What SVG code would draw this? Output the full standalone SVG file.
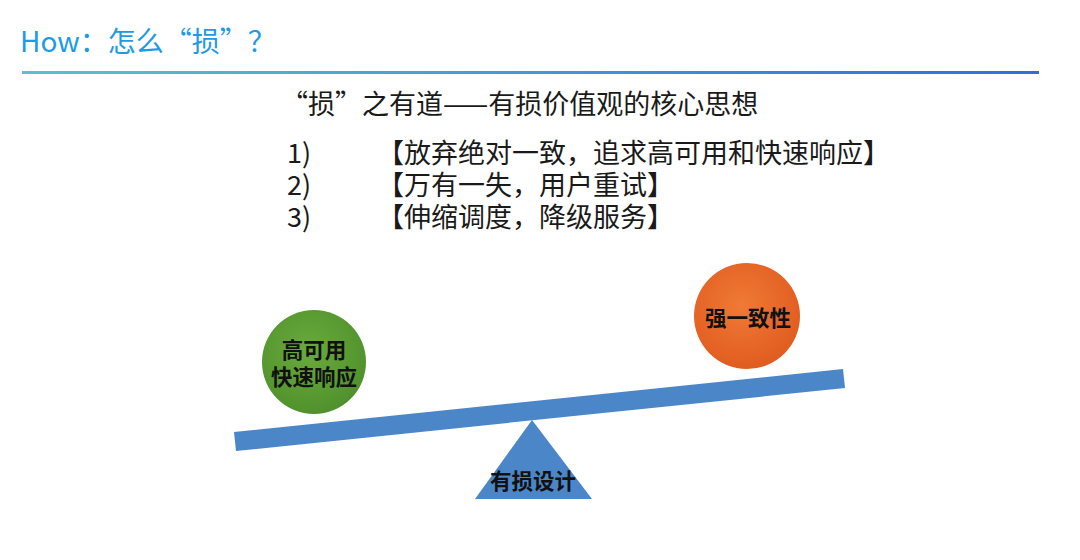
<svg xmlns="http://www.w3.org/2000/svg" width="1080" height="560" viewBox="0 0 1080 560">
<defs>
<linearGradient id="hl" x1="0" y1="0" x2="1" y2="0">
<stop offset="0" stop-color="#5cbfcf"/>
<stop offset="1" stop-color="#2f6fdc"/>
</linearGradient>
<radialGradient id="gg" cx="0.45" cy="0.4" r="0.65">
<stop offset="0" stop-color="#6aab3c"/>
<stop offset="1" stop-color="#4f8f2c"/>
</radialGradient>
<radialGradient id="og" cx="0.45" cy="0.4" r="0.65">
<stop offset="0" stop-color="#f07a36"/>
<stop offset="1" stop-color="#df5a1e"/>
</radialGradient>
<style>
.t{font-family:"Noto Sans CJK SC","Liberation Sans",sans-serif;}
.body{font-size:27px;fill:#1a1a1a;}
.lbl{font-size:21.5px;font-weight:bold;fill:#111;text-anchor:middle;}
</style>
</defs>
<rect width="1080" height="560" fill="#fff"/>
<text class="t" x="20" y="52" font-size="28" fill="#1e9ae6">How：怎么“损”？</text>
<rect x="22" y="71" width="1017" height="3" fill="url(#hl)"/>
<text class="t body" x="281" y="114">“损”之有道——有损价值观的核心思想</text>
<g class="t body">
<text x="287" y="163">1)</text><text x="377" y="163">【放弃绝对一致，追求高可用和快速响应】</text>
<text x="287" y="195">2)</text><text x="377" y="195">【万有一失，用户重试】</text>
<text x="287" y="227">3)</text><text x="377" y="227">【伸缩调度，降级服务】</text>
</g>
<g id="beam"><polygon points="234,432 843,369 845,388 236,451" fill="#4a86c8"/></g>
<g id="fulcrum">
<polygon points="532,420 592,499 475,499" fill="#4a86c8"/>
<text class="t lbl" x="533" y="489" font-size="19.5">有损设计</text>
</g>
<g id="left">
<circle cx="314" cy="362" r="52" fill="url(#gg)"/>
<text class="t lbl" x="314" y="358">高可用</text>
<text class="t lbl" x="314" y="385">快速响应</text>
</g>
<g id="right">
<circle cx="747" cy="316" r="53" fill="url(#og)"/>
<text class="t lbl" x="748" y="326">强一致性</text>
</g>
</svg>
